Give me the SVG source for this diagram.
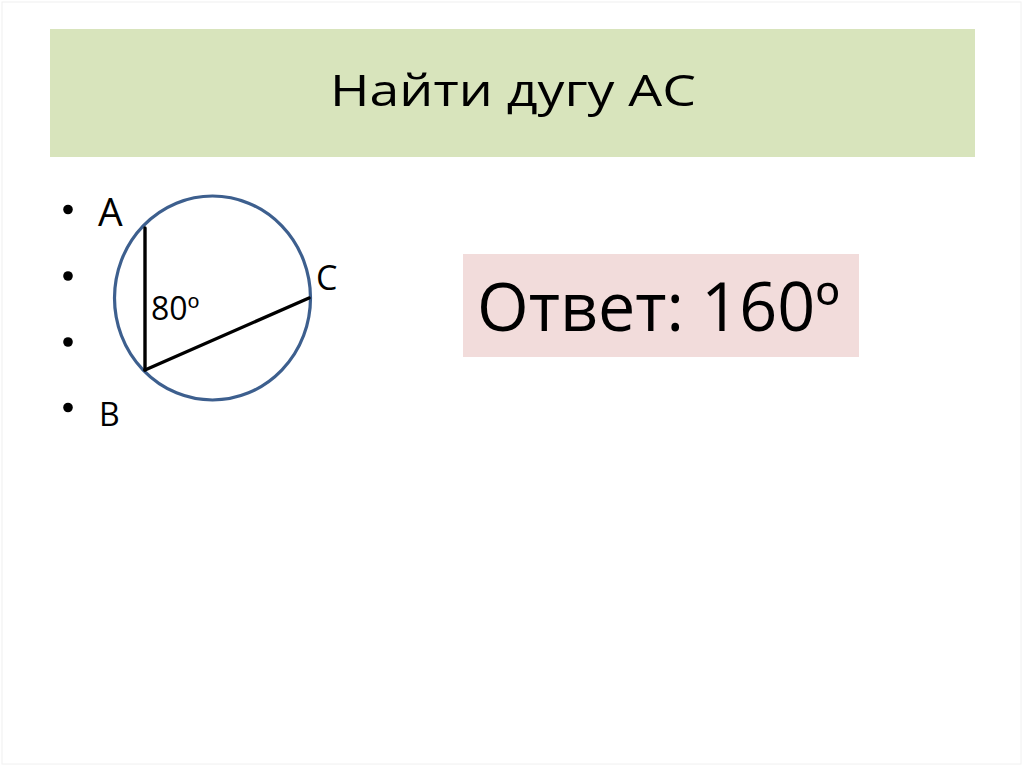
<svg xmlns="http://www.w3.org/2000/svg" width="1024" height="767" viewBox="0 0 1024 767">
  <style>
    .t { font-family: "Open Sans", "Noto Sans", "Liberation Sans", sans-serif; fill: #000; }
    .geo { fill: none; stroke: #000; stroke-width: 3.4; stroke-linecap: round; }
  </style>
  <rect x="0" y="0" width="1024" height="767" fill="#ffffff"/>
  <rect x="2" y="2" width="1019" height="762" fill="none" stroke="#f0f0f0" stroke-width="1"/>

  <g id="title">
    <rect x="50" y="29" width="925" height="128" fill="#d8e4bc"/>
    <text class="t" x="513" y="106" font-size="44" text-anchor="middle" textLength="366" lengthAdjust="spacingAndGlyphs">Найти дугу АС</text>
  </g>

  <g id="bullets">
    <circle cx="68" cy="209.5" r="4.8" fill="#000"/>
    <circle cx="68" cy="276" r="4.8" fill="#000"/>
    <circle cx="68" cy="342" r="4.8" fill="#000"/>
    <circle cx="68" cy="407.5" r="4.8" fill="#000"/>
    <text class="t" x="98" y="226" font-size="39">A</text>
    <text class="t" x="99" y="426" font-size="32">B</text>
  </g>

  <g id="circle-figure">
    <ellipse cx="212.5" cy="298" rx="98" ry="102" fill="none" stroke="#3d5f8e" stroke-width="3.2"/>
    <g id="connectors">
      <line class="geo" x1="145" y1="228" x2="145" y2="370"/>
      <line class="geo" x1="145" y1="370" x2="309" y2="298"/>
    </g>
    <text class="t" x="151" y="320" font-size="32">80º</text>
    <text class="t" x="316" y="290" font-size="34">C</text>
  </g>

  <g id="answer">
    <rect x="463" y="254" width="396" height="103" fill="#f2dcdb"/>
    <text class="t" x="477" y="331" font-size="67" textLength="363" lengthAdjust="spacingAndGlyphs">Ответ: 160º</text>
  </g>
</svg>
